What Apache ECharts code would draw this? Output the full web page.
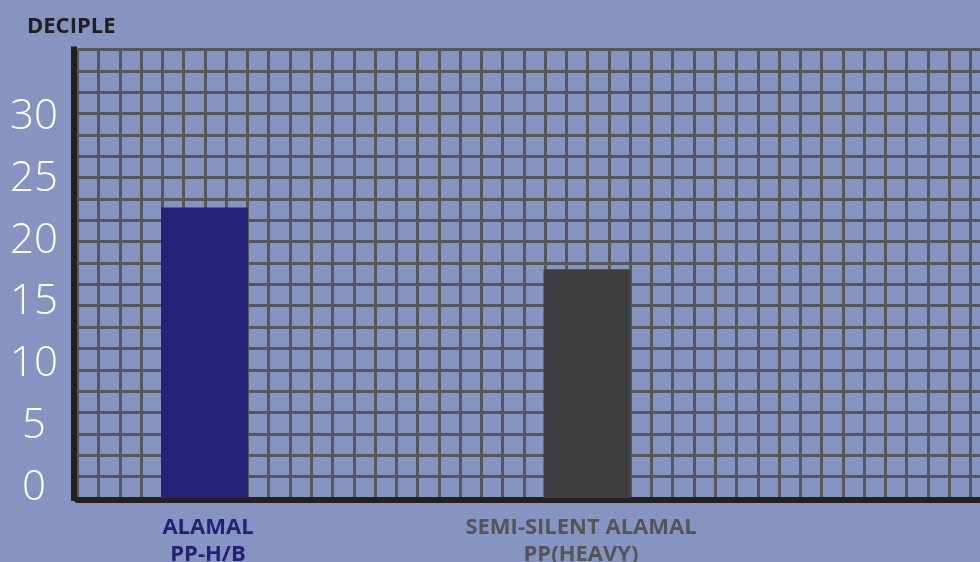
<!DOCTYPE html>
<html><head><meta charset="utf-8">
<script src="https://cdn.jsdelivr.net/npm/echarts@6/dist/echarts.min.js"></script>
<style>html,body{margin:0;padding:0;background:#8694c2}#c{width:980px;height:562px}</style>
</head><body><div id="c"></div>
<script>
const categories = ['ALAMAL\nPP-H/B', 'SEMI-SILENT ALAMAL\nPP(HEAVY)'];
const values = [22.7, 17.7];
const barColors = ['#252176', '#3e3e40'];
const labelColors = ['#252176', '#555558'];
const yTicks = [0, 5, 10, 15, 20, 25, 30];
const yTitle = 'DECIPLE';

const yMin = -0.83, yMax = 35.5;
const gridColor = '#58585a';
const axisColor = '#231f20';
const labelPads = [[0, 0, 0, 7], [0, 12, 0, 0]];
const rich = {};
labelColors.forEach((c, i) => {
  rich['c' + i] = {color: c, fontSize: 22, fontWeight: 'bold', fontFamily: 'Open Sans',
    lineHeight: 27, padding: labelPads[i]};
});
const chart = echarts.init(document.getElementById('c'), null, {renderer: 'canvas'});
chart.setOption({
  animation: false,
  backgroundColor: '#8694c2',
  title: {
    text: yTitle, left: 22, top: 11,
    textStyle: {fontFamily: 'Open Sans', fontSize: 22, fontWeight: 'bold', color: axisColor}
  },
  grid: [
    {left: 77.3, top: 49.5, bottom: 64.1, right: -33, outerBoundsMode: 'none', containLabel: false},
    {left: 13.25, top: 49.5, bottom: 64.1, width: 765, outerBoundsMode: 'none', containLabel: false}
  ],
  xAxis: [
    {gridIndex: 0, type: 'value', min: 0, max: 44, interval: 1, offset: 2,
     axisLabel: {show: false}, axisTick: {show: false},
     splitLine: {show: true, lineStyle: {color: gridColor, width: 3}},
     axisLine: {show: true, onZero: false, lineStyle: {color: axisColor, width: 6}}},
    {gridIndex: 1, type: 'category', data: categories,
     axisLine: {show: false}, axisTick: {show: false}, splitLine: {show: false},
     axisLabel: {interval: 0, margin: 16, fontSize: 22, fontWeight: 'bold', lineHeight: 27,
       fontFamily: 'Open Sans', rich: rich,
       formatter: (v, i) => v.split('\n').map(s => '{c' + i + '|' + s + '}').join('\n')}}
  ],
  yAxis: [
    {gridIndex: 0, type: 'value', min: 0, max: 21, interval: 1, offset: 3.3,
     axisLabel: {show: false}, axisTick: {show: false},
     splitLine: {show: true, lineStyle: {color: gridColor, width: 3}},
     axisLine: {show: true, onZero: false, lineStyle: {color: axisColor, width: 6, cap: 'square'}}},
    {gridIndex: 1, type: 'value', min: yMin, max: yMax, offset: -63.75,
     axisLine: {show: false}, axisTick: {show: false}, splitLine: {show: false},
     axisLabel: {customValues: yTicks, align: 'center', margin: 43, fontSize: 42,
       fontWeight: 300, color: '#ffffff', fontFamily: 'Open Sans'}}
  ],
  series: [
    {type: 'bar', name: 'base', xAxisIndex: 1, yAxisIndex: 1, barWidth: 87, z: 3,
     stack: 'b', stackStrategy: 'all', silent: true,
     itemStyle: {color: 'rgba(0,0,0,0)'},
     data: values.map(() => yMin)},
    {type: 'bar', name: 'DECIPLE', xAxisIndex: 1, yAxisIndex: 1, barWidth: 87, z: 3,
     stack: 'b', stackStrategy: 'all',
     data: values.map((v, i) => ({value: v - yMin, itemStyle: {color: barColors[i]}}))}
  ]
});
</script></body></html>
